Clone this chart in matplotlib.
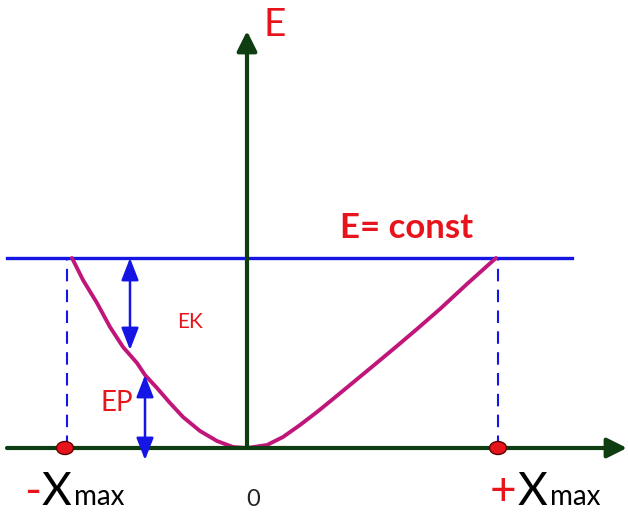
import matplotlib.pyplot as plt
from matplotlib.patches import Ellipse

plt.rcParams['font.family'] = ['Lato', 'DejaVu Sans']

# energy level and turning points (origin at the centre)
E_const = 190
x_left = -180
x_right = 251

# potential energy curve
pot_x = [-175, -164, -150, -137, -124, -110, -102, -90, -77, -64, -47, -30, -14, 0,
         20, 36, 53, 70, 86, 103, 126, 150, 170, 193, 220, 249]
pot_e = [190, 168, 145, 121, 101, 85, 73, 60, 45, 31, 17, 7, 1, 0,
         3, 11, 23, 36, 49, 63, 82, 102, 119, 139, 164, 190]

# EK / EP arrows (x, bottom, top)
ek_arrow = (-117, 98, E_const)
ep_arrow = (-102, -12, 73)

green = "#0f3d12"
blue = "#1515e6"
red = "#e8141c"
curve_col = "#c0167a"

fig = plt.figure(figsize=(6.28, 5.14), dpi=100)
ax = fig.add_axes([0, 0, 1, 1])
ax.set_xlim(-247, 381)
ax.set_ylim(-66, 448)
ax.axis("off")

# axes with arrows
ax.annotate("", xy=(380, 0), xytext=(-240, 0),
            arrowprops=dict(arrowstyle="-|>,head_length=0.8,head_width=0.4",
                            color=green, lw=3, mutation_scale=15, shrinkA=0, shrinkB=0))
ax.annotate("", xy=(0, 417), xytext=(0, 0),
            arrowprops=dict(arrowstyle="-|>,head_length=0.8,head_width=0.4",
                            color=green, lw=3, mutation_scale=15, shrinkA=0, shrinkB=0))

# total energy line
ax.plot([-240, 325], [E_const, E_const], color=blue, lw=2.4)

# turning point dashed lines
ax.plot([x_left, x_left], [0, E_const], color=blue, lw=1.5, ls=(0, (6, 4)))
ax.plot([x_right, x_right], [0, E_const], color=blue, lw=1.5, ls=(0, (6, 4)))

# potential curve
ax.plot(pot_x, pot_e, color=curve_col, lw=2.8, solid_joinstyle="round", solid_capstyle="round")

# turning point markers
for xx in [x_left - 2, x_right]:
    ax.add_patch(Ellipse((xx, 0), 17, 13, facecolor=red, edgecolor="#5a0000", lw=1, zorder=5))

# EK and EP double arrows
for xa, y0, y1 in [ek_arrow, ep_arrow]:
    ax.annotate("", xy=(xa, y1), xytext=(xa, y0),
                arrowprops=dict(arrowstyle="<|-|>,head_length=0.9,head_width=0.35",
                                color=blue, lw=1.8, mutation_scale=15, shrinkA=0, shrinkB=0))

# labels
ax.text(28, 423, "E", color=red, fontsize=28, ha="center", va="center")
ax.text(93, 220, "E= const", color=red, fontsize=25, fontweight="bold", ha="left", va="center")
ax.text(-57, 126, "EK", color=red, fontsize=15, ha="center", va="center")
ax.text(-130, 45, "EP", color=red, fontsize=20, ha="center", va="center")
ax.text(6, -58, "0", color="#222222", fontsize=17, ha="center", va="baseline")

ax.text(-223, -57, "-", color=red, fontsize=33, ha="left", va="baseline")
ax.text(-205, -57, "X", color="black", fontsize=33, ha="left", va="baseline")
ax.text(-173, -57, "max", color="black", fontsize=20, ha="left", va="baseline")
ax.text(243, -57, "+", color=red, fontsize=33, ha="left", va="baseline")
ax.text(271, -57, "X", color="black", fontsize=33, ha="left", va="baseline")
ax.text(303, -57, "max", color="black", fontsize=20, ha="left", va="baseline")

fig.savefig("out.png", dpi=100)
